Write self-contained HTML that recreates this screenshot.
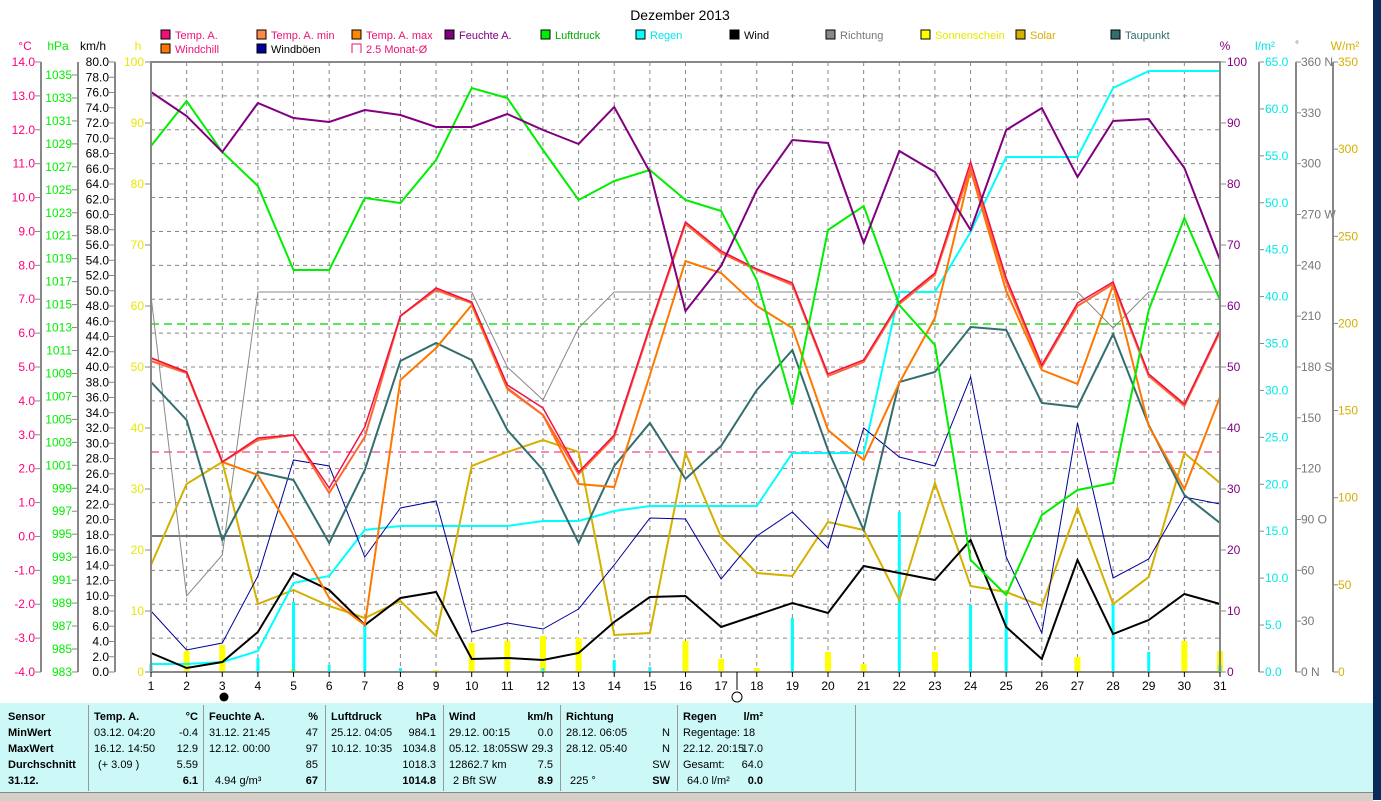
<!DOCTYPE html>
<html><head><meta charset="utf-8"><style>
body{margin:0;width:1381px;height:800px;overflow:hidden;background:#fff;font-family:"Liberation Sans",sans-serif;}
svg text{font-family:"Liberation Sans",sans-serif;}
#tbl{position:absolute;left:0;top:703px;width:1373px;height:89px;background:#ccf8f8;font-size:11px;}
#tbl div{position:absolute;white-space:nowrap;}
.b{font-weight:bold}
.sep{position:absolute;top:2px;width:1px;height:86px;background:#999;}
</style></head><body>
<svg id="s" width="1381" height="800" style="position:absolute;left:0;top:0"></svg>
<div id="tbl"></div>
<div style="position:absolute;left:0;top:792px;width:1373px;height:8px;background:#d4d0c8;border-top:1px solid #888"></div>
<div style="position:absolute;left:1373px;top:0;width:8px;height:800px;background:#0a2a5a"></div>
<script>
const s=document.getElementById('s');let h='';
const X=d=>151+(d-1)*35.633;
const L=151,R=1220,T=62,B=672;
function t(x,y,str,c,a,sz){h+=`<text x="${x}" y="${y}" fill="${c}" font-size="${sz||12}" text-anchor="${a||'start'}">${str}</text>`;}
t(680,20,'Dezember 2013','#000','middle',14);
// grid
for(let d=2;d<=30;d++)h+=`<line x1="${X(d)}" y1="${T}" x2="${X(d)}" y2="${B}" stroke="#888" stroke-dasharray="4,4"/>`;
for(let i=1;i<18;i++){let y=T+i*33.89;h+=`<line x1="${L}" y1="${y}" x2="${R}" y2="${y}" stroke="#888" stroke-dasharray="4,4"/>`;}
h+=`<line x1="${L}" y1="536" x2="${R}" y2="536" stroke="#777" stroke-width="2"/>`;
h+=`<line x1="${L}" y1="324" x2="${R}" y2="324" stroke="#22dd22" stroke-dasharray="8,5" stroke-width="1.5"/>`;
h+=`<line x1="${L}" y1="452" x2="${R}" y2="452" stroke="#ee1177" stroke-dasharray="8,5"/>`;
// bars
const yb={2:651,3:645,5:669,9:670,10:643,11:641,12:636,13:638,16:641,17:659,18:668,20:652,21:664,23:652,27:657,30:641,31:651};
for(const d in yb)h+=`<rect x="${X(+d)-3}" y="${yb[d]}" width="6" height="${B-yb[d]}" fill="#ffff00"/>`;
const cb={1:664,4:658,5:602,6:665,7:625,8:668,12:668,14:660,15:667,19:618,22:512,24:605,25:602,28:604,29:652,31:665};
for(const d in cb)h+=`<rect x="${X(+d)-1.5}" y="${cb[d]}" width="3" height="${B-cb[d]}" fill="#00ffff"/>`;
function P(a,c,w){h+=`<polyline fill="none" stroke="${c}" stroke-width="${w}" points="${a.map((y,i)=>X(i+1).toFixed(1)+','+y).join(' ')}"/>`;}
P([296,596,555,292,292,292,292,292,292,292,367,400,328,292,292,292,292,292,292,292,292,292,292,292,292,292,292,328,292,292,292],'#888',1);
P([565,484,462,604,590,606,618,601,636,466,452,440,452,635,633,453,537,573,576,522,530,600,483,586,592,606,508,604,577,453,483],'#d4b000',2);
P([664,664,662,651,583,576,530,526,526,526,526,521,521,511,506,506,506,506,453,453,453,292,292,232,157,157,157,88,71,71,71],'#00ffff',2);
P([611,650,643,576,460,466,557,508,501,632,623,629,609,565,518,519,579,536,512,548,428,457,466,377,557,633,423,578,559,497,504],'#000099',1);
P([653,668,662,632,573,590,625,598,592,659,658,660,653,622,597,596,627,615,603,613,566,573,580,540,627,659,560,634,620,594,604],'#000',2);
P([382,420,540,472,480,543,470,361,343,360,430,470,543,466,423,479,446,390,350,450,530,382,372,327,330,403,407,334,425,495,523],'#336e6e',2);
P([358,372,462,475,535,598,625,380,348,305,389,415,484,487,375,261,273,306,328,430,460,383,318,170,291,370,384,285,426,489,397],'#ff7700',2);
P([361,373,462,440,435,493,437,316,290,303,388,415,474,437,328,224,253,270,285,376,362,304,275,168,282,367,306,284,376,406,332],'#ff6633',2);
P([358,372,462,438,435,488,427,316,288,302,385,408,472,435,326,222,251,269,283,374,360,302,273,162,278,365,303,282,374,404,330],'#ee1144',1.5);
P([146,101,152,186,270,270,198,203,160,88,98,150,200,181,170,200,211,280,405,230,206,305,345,560,595,515,490,483,310,218,300],'#00ee00',2);
P([92,116,152,103,118,122,110,115,127,127,114,130,144,107,172,311,266,190,140,143,243,151,172,230,130,108,177,121,119,168,260],'#800080',2);
// frame
h+=`<rect x="${L}" y="${T}" width="${R-L}" height="${B-T}" fill="none" stroke="#888" stroke-width="2"/>`;
// x labels
for(let d=1;d<=31;d++){h+=`<line x1="${X(d)}" y1="${B}" x2="${X(d)}" y2="${B+5}" stroke="#000"/>`;t(X(d),690,d,'#000','middle',12);}
h+=`<line x1="737" y1="${B}" x2="737" y2="690" stroke="#000"/><circle cx="224" cy="697" r="4.5" fill="#000"/><circle cx="737" cy="697" r="5" fill="none" stroke="#000"/>`;
// left axes
function axis(lx,tx,vals,y0,step,c,fmt,dir){h+=`<line x1="${lx}" y1="${y0}" x2="${lx}" y2="${B}" stroke="#888" stroke-width="2"/>`;vals.forEach((v,i)=>{let y=y0+i*step;h+=`<line x1="${lx+(dir>0?0:-6)}" y1="${y}" x2="${lx+(dir>0?6:0)}" y2="${y}" stroke="#888"/>`;t(tx,y+4,fmt(v),c,dir>0?'start':'end',12);});}
let a=[];for(let v=14;v>=-4;v--)a.push(v);axis(41,35,a,T,33.89,'#ff0080',v=>v.toFixed(1),-1);
a=[];for(let v=1035;v>=983;v-=2)a.push(v);
h+=`<line x1="78" y1="${T}" x2="78" y2="${B}" stroke="#888" stroke-width="2"/>`;a.forEach((v,i)=>{let y=75+i*22.96;h+=`<line x1="72" y1="${y}" x2="78" y2="${y}" stroke="#888"/>`;t(72,y+4,v,'#00ee00','end',12);});
a=[];for(let v=80;v>=0;v-=2)a.push(v);axis(115,109,a,T,15.25,'#000',v=>v.toFixed(1),-1);
for(let i=0;i<=10;i++){let y=T+i*61;h+=`<line x1="145" y1="${y}" x2="151" y2="${y}" stroke="#888"/>`;t(144,y+4,100-i*10,'#e8e800','end',12);}
// right axes
for(let i=0;i<=10;i++){let y=T+i*61;h+=`<line x1="${R}" y1="${y}" x2="${R+6}" y2="${y}" stroke="#888"/>`;t(1227,y+4,100-i*10,'#800080','start',12);}
h+=`<line x1="1259" y1="${T}" x2="1259" y2="${B}" stroke="#888" stroke-width="2"/>`;
for(let i=0;i<=13;i++){let y=T+i*46.92;h+=`<line x1="1259" y1="${y}" x2="1264" y2="${y}" stroke="#888"/>`;t(1265,y+4,(65-i*5).toFixed(1),'#00e8e8','start',12);}
h+=`<line x1="1296" y1="${T}" x2="1296" y2="${B}" stroke="#888" stroke-width="2"/>`;
const dn={360:' N',270:' W',180:' S',90:' O',0:' N'};
for(let i=0;i<=12;i++){let y=T+i*50.83,v=360-i*30;h+=`<line x1="1296" y1="${y}" x2="1301" y2="${y}" stroke="#888"/>`;t(1301,y+4,v+(dn[v]||''),'#777','start',12);}
h+=`<line x1="1333" y1="${T}" x2="1333" y2="${B}" stroke="#888" stroke-width="2"/>`;
for(let i=0;i<=7;i++){let y=T+i*87.14;h+=`<line x1="1333" y1="${y}" x2="1338" y2="${y}" stroke="#888"/>`;t(1338,y+4,350-i*50,'#d4b000','start',12);}
// units
t(25,50,'°C','#ff0080','middle',12);t(58,50,'hPa','#00ee00','middle',12);t(93,50,'km/h','#000','middle',12);t(138,50,'h','#e8e800','middle',12);
t(1225,50,'%','#800080','middle',12);t(1265,50,'l/m²','#00e8e8','middle',12);t(1297,48,'°','#777','middle',10);t(1345,50,'W/m²','#d4b000','middle',12);
// legend
const lg=[[161,38,'#ee1177','Temp. A.','#ee1177'],[257,38,'#ff8844','Temp. A. min','#ee1177'],[352,38,'#ff8800','Temp. A. max','#ee1177'],[445,38,'#800080','Feuchte A.','#800080'],[541,38,'#00ee00','Luftdruck','#00aa00'],[636,38,'#00ffff','Regen','#00e8e8'],[730,38,'#000','Wind','#000'],[826,38,'#888','Richtung','#777'],[921,38,'#ffff00','Sonnenschein','#e8e800'],[1016,38,'#d4b000','Solar','#d4b000'],[1111,38,'#336e6e','Taupunkt','#336e6e'],[161,52,'#ff7700','Windchill','#ee1177'],[257,52,'#000099','Windböen','#000']];
lg.forEach(l=>{h+=`<rect x="${l[0]}" y="${l[1]-8}" width="9" height="9" fill="${l[2]}" stroke="#000"/>`;t(l[0]+14,l[1]+1,l[3],l[4],'start',11);});
h+=`<path d="M352,${44+9} V44 H361 V53" fill="none" stroke="#ee1177"/>`;t(366,53,'2.5 Monat-Ø','#ee1177','start',11);
s.innerHTML=h;
// table
const tb=document.getElementById('tbl');let g='';
function c(x,y,str,b,al){g+=`<div class="${b?'b':''}" style="left:${x}px;top:${y}px;${al?'transform:translateX(-100%)':''}">${str}</div>`;}
[88,203,325,443,560,677,855].forEach(x=>g+=`<div class="sep" style="left:${x}px"></div>`);
const ry=[8,24,40,56,72];
['Sensor','MinWert','MaxWert','Durchschnitt','31.12.'].forEach((v,i)=>c(8,ry[i],v,1));
c(94,ry[0],'Temp. A.',1);c(198,ry[0],'°C',1,1);c(94,ry[1],'03.12.  04:20');c(198,ry[1],'-0.4',0,1);c(94,ry[2],'16.12.  14:50');c(198,ry[2],'12.9',0,1);c(98,ry[3],'(+ 3.09 )');c(198,ry[3],'5.59',0,1);c(198,ry[4],'6.1',1,1);
c(209,ry[0],'Feuchte A.',1);c(318,ry[0],'%',1,1);c(209,ry[1],'31.12.  21:45');c(318,ry[1],'47',0,1);c(209,ry[2],'12.12.  00:00');c(318,ry[2],'97',0,1);c(318,ry[3],'85',0,1);c(215,ry[4],'4.94 g/m³');c(318,ry[4],'67',1,1);
c(331,ry[0],'Luftdruck',1);c(436,ry[0],'hPa',1,1);c(331,ry[1],'25.12.  04:05');c(436,ry[1],'984.1',0,1);c(331,ry[2],'10.12.  10:35');c(436,ry[2],'1034.8',0,1);c(436,ry[3],'1018.3',0,1);c(436,ry[4],'1014.8',1,1);
c(449,ry[0],'Wind',1);c(553,ry[0],'km/h',1,1);c(449,ry[1],'29.12.  00:15');c(553,ry[1],'0.0',0,1);c(449,ry[2],'05.12.  18:05SW');c(553,ry[2],'29.3',0,1);c(449,ry[3],'12862.7 km');c(553,ry[3],'7.5',0,1);c(453,ry[4],'2 Bft SW');c(553,ry[4],'8.9',1,1);
c(566,ry[0],'Richtung',1);c(670,ry[0],'N',0,1);c(566,ry[1],'28.12.  06:05');c(670,ry[1],'N',0,1);c(566,ry[2],'28.12.  05:40');c(670,ry[2],'N',0,1);c(670,ry[3],'SW',0,1);c(570,ry[4],'225 °');c(670,ry[4],'SW',1,1);
g=g.replace('>N</div>','>  </div>');c(670,ry[0],'',0,1);
c(683,ry[0],'Regen',1);c(763,ry[0],'l/m²',1,1);c(683,ry[1],'Regentage: 18');c(683,ry[2],'22.12.  20:15');c(763,ry[2],'17.0',0,1);c(683,ry[3],'Gesamt:');c(763,ry[3],'64.0',0,1);c(687,ry[4],'64.0 l/m²');c(763,ry[4],'0.0',1,1);
tb.innerHTML=g;
</script>
</body></html>
